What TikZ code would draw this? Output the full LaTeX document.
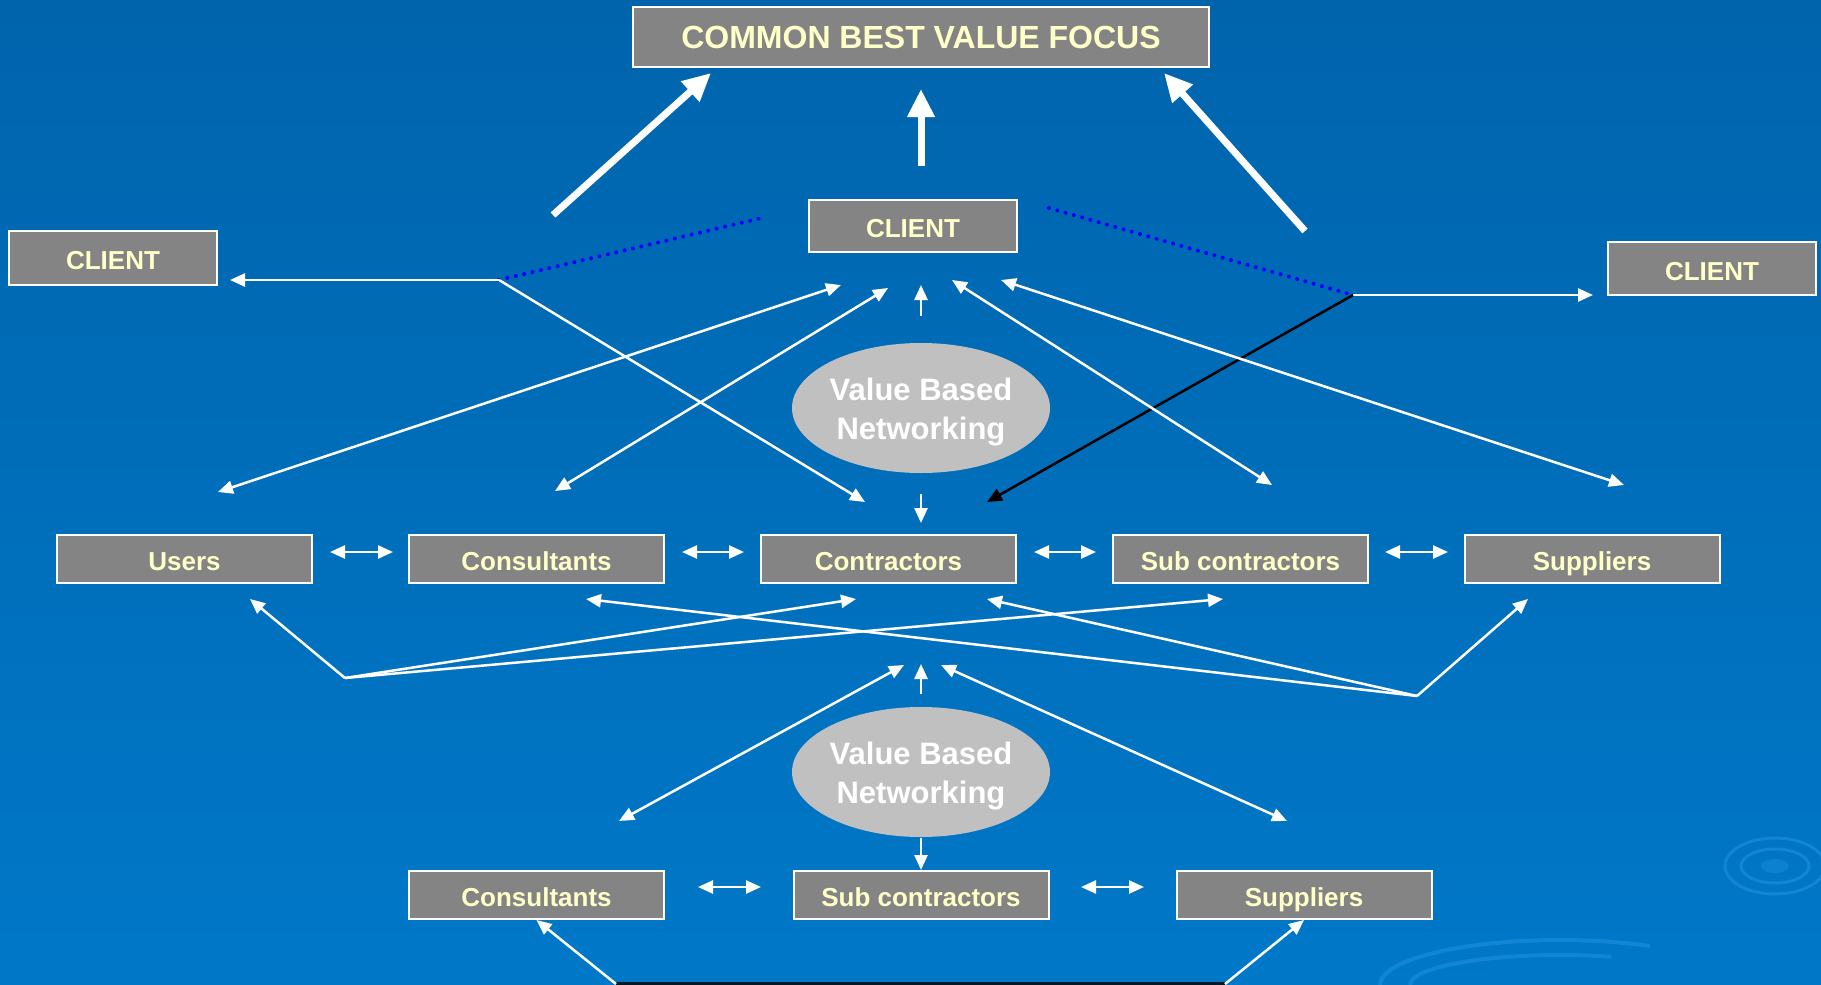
\documentclass[tikz,border=0pt]{standalone}
\usepackage{fontspec}
\setmainfont{Liberation Sans}
\usetikzlibrary{arrows.meta,shapes.geometric}
\definecolor{bgtop}{HTML}{0064AC}
\definecolor{bgbot}{HTML}{0078C8}
\definecolor{boxgray}{HTML}{848484}
\definecolor{boxtxt}{HTML}{FFFFC8}
\definecolor{ellgray}{HTML}{C0C0C0}
\definecolor{ripple}{HTML}{1A8CDC}
\tikzset{
  box/.style={draw=white, line width=2pt, fill=boxgray, text=boxtxt,
    font=\bfseries\fontsize{26}{30}\selectfont, inner sep=0pt,
    text height=24pt, text depth=1pt,
    minimum width=255pt, minimum height=48pt},
  cbox/.style={box, minimum width=208pt, minimum height=52pt},
  ell/.style={ellipse, fill=ellgray, inner sep=0pt,
    minimum width=258pt, minimum height=130pt},
  elltext/.style={text=white, inner sep=0pt, align=center,
    font=\bfseries\fontsize{31}{39}\selectfont},
  conn/.style={draw=white, line width=2.5pt,
    >={Triangle[length=15pt,width=13pt]}},
  thick/.style={draw=white, line width=7pt,
    -{Triangle[length=28pt,width=26pt]}},
  bluedot/.style={draw=blue, line width=4pt, dash pattern=on 0.1pt off 8.5pt, line cap=round},
}
\begin{document}
\begin{tikzpicture}[x=1pt,y=-1pt]
\shade[top color=bgtop, bottom color=bgbot] (0,0) rectangle (1821,985);
\useasboundingbox (0,0) rectangle (1821,985);
% ripples
\begin{scope}[ripple, line width=3pt, opacity=0.7]
  \fill[ripple!70!bgbot] (1775,866) ellipse (14pt and 7pt);
  \draw (1775,866) ellipse (34pt and 17pt);
  \draw (1775,866) ellipse (50pt and 28pt);
  \draw[line width=4pt] (1380,985) arc[start angle=180, end angle=60, x radius=180pt, y radius=45pt];
  \draw[line width=4pt] (1410,985) arc[start angle=180, end angle=70, x radius=150pt, y radius=30pt];
\end{scope}

% nodes
\node[box, minimum width=576pt, minimum height=60pt, text height=26pt, text depth=3pt, font=\bfseries\fontsize{32}{36}\selectfont] (focus) at (921,37) {COMMON BEST VALUE FOCUS};
\node[cbox] (ctop) at (913,226) {CLIENT};
\node[cbox, minimum height=54pt] (cleft) at (113,258) {CLIENT};
\node[cbox, minimum height=53pt] (cright) at (1712,268.5) {CLIENT};

\node[ell] (vbn1) at (921,408) {};
\node[elltext] (vbn1t) at ([yshift=-4pt]vbn1.center) {Value Based\\Networking};
\node[ell] (vbn2) at (921,772) {};
\node[elltext] (vbn2t) at ([yshift=-4pt]vbn2.center) {Value Based\\Networking};

\node[box] (users) at (184.5,559) {Users};
\node[box] (cons) at (536.5,559) {Consultants};
\node[box] (contr) at (888.5,559) {Contractors};
\node[box] (sub) at (1240.5,559) {Sub contractors};
\node[box] (supp) at (1592,559) {Suppliers};

\node[box] (bcons) at (536.5,895) {Consultants};
\node[box] (bsub) at (921,895) {Sub contractors};
\node[box] (bsupp) at (1304,895) {Suppliers};

% coordinates
\coordinate (lh) at (499,280);
\coordinate (rh) at (1353,295);
\coordinate (llh) at (345,678);
\coordinate (rlh) at (1417,696);
\coordinate (bl) at (616,984);
\coordinate (br) at (1225,984);

% thick arrows to focus
\draw[thick] (553,215) -- (711,73);
\draw[thick] (921,166) -- (921,89);
\draw[thick] (1305,231) -- (1164,73);

% dotted blue
\draw[bluedot] (lh) -- (766,217);
\draw[bluedot] (1049,208) -- (rh);

% side client links
\draw[conn,->] (lh) -- (230,280);
\draw[conn,->] (lh) -- (865,502);
\draw[conn,->] (rh) -- (1593,295);
\draw[draw=black, line width=2.5pt, -{Triangle[length=15pt,width=13pt]}] (rh) -- (987,502);

% arrows around vbn1
\draw[conn,<->] (218,492) -- (841,285);
\draw[conn,<->] (555,491) -- (888,288);
\draw[conn,->] (921,316) -- (921,285);
\draw[conn,->] (921,494) -- (921,523);
\draw[conn,<->] (952,280) -- (1272,485);
\draw[conn,<->] (1001,280) -- (1624,485);

% horizontal row arrows
\draw[conn,<->] (330,552) -- (393,552);
\draw[conn,<->] (682,552) -- (744,552);
\draw[conn,<->] (1034,552) -- (1096,552);
\draw[conn,<->] (1385,552) -- (1448,552);

% lower fans
\draw[conn,->] (llh) -- (250,599);
\draw[conn,->] (llh) -- (856,599);
\draw[conn,->] (llh) -- (1223,599);
\draw[conn,->] (rlh) -- (1528,599);
\draw[conn,->] (rlh) -- (586,599);
\draw[conn,->] (rlh) -- (987,599);

% arrows around vbn2
\draw[conn,->] (921,694) -- (921,664);
\draw[conn,<->] (619,821) -- (904,665);
\draw[conn,<->] (1287,821) -- (941,665);
\draw[conn,->] (921,838) -- (bsub.north);

% bottom row arrows
\draw[conn,<->] (698,887) -- (761,887);
\draw[conn,<->] (1081,887) -- (1144,887);

% bottom links
\draw[draw=black!80!bgbot, line width=4pt] (bl) -- (br);
\draw[conn,->] (bl) -- (bcons.south);
\draw[conn,->] (br) -- (bsupp.south);
\end{tikzpicture}
\end{document}
